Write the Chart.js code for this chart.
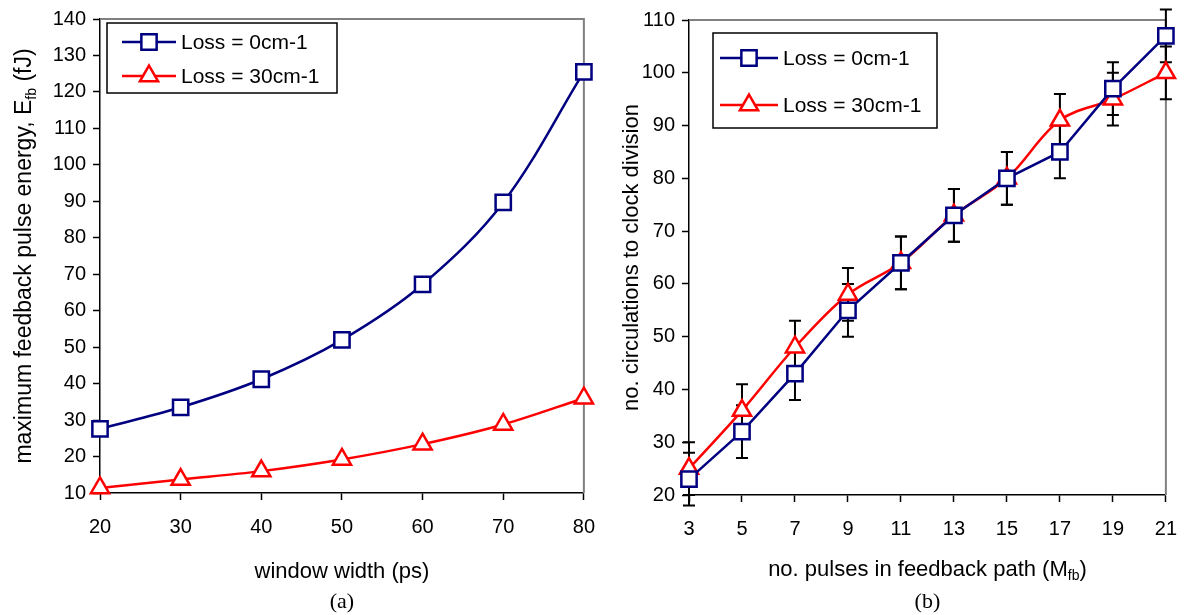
<!DOCTYPE html>
<html>
<head>
<meta charset="utf-8">
<script src="https://cdn.jsdelivr.net/npm/chart.js@4.4.1/dist/chart.umd.min.js"></script>
<style>
  html, body { margin: 0; padding: 0; background: #fff; }
  #wrap { position: relative; width: 1192px; height: 615px; overflow: hidden; }
  canvas { position: absolute; top: 0; }
  #energyChart { left: 0; }
  #circChart { left: 600px; }
</style>
</head>
<body>
<div id="wrap">
  <canvas id="energyChart" width="610" height="615"></canvas>
  <canvas id="circChart" width="592" height="615"></canvas>
</div>
<script>
// series data
const seriesNames = ['Loss = 0cm-1', 'Loss = 30cm-1'];

const windowWidths = [20, 30, 40, 50, 60, 70, 80];
const energyLoss0 = [27.6, 33.5, 41.2, 52, 67.2, 89.7, 125.5];
const energyLoss30 = [11.4, 13.7, 16, 19.2, 23.4, 28.8, 36];

const pulseCounts = [3, 5, 7, 9, 11, 13, 15, 17, 19, 21];
const circLoss0 = [23, 32, 43, 55, 64, 73, 80, 85, 97, 107];
const circLoss30 = [25, 36, 48, 58, 64, 73, 80, 91, 95, 100];
const circErr0 = [5, 5, 5, 5, 5, 5, 5, 5, 5, 5];
const circErr30 = [5, 5, 5, 5, 5, 5, 5, 5, 5, 5];

// axis tick values
const widthTicks = [20, 30, 40, 50, 60, 70, 80];
const energyTicks = [10, 20, 30, 40, 50, 60, 70, 80, 90, 100, 110, 120, 130, 140];
const pulseTicks = [3, 5, 7, 9, 11, 13, 15, 17, 19, 21];
const circTicks = [20, 30, 40, 50, 60, 70, 80, 90, 100, 110];

const FONT = '"Liberation Sans", Arial, sans-serif';
const SERIF = '"Liberation Serif", "Times New Roman", serif';
const NAVY = '#000080';
const RED = '#ff0000';

Chart.defaults.font.family = FONT;
Chart.defaults.font.size = 20;
Chart.defaults.color = '#000';

function drawRichText(ctx, parts, cx, cy, size) {
  const big = size + 'px ' + FONT;
  const small = Math.round(size * 0.62) + 'px ' + FONT;
  const widths = parts.map(p => {
    ctx.font = p.sub ? small : big;
    return ctx.measureText(p.text).width;
  });
  const total = widths.reduce((a, b) => a + b, 0);
  let x = cx - total / 2;
  ctx.textAlign = 'left';
  ctx.textBaseline = 'middle';
  parts.forEach((p, i) => {
    ctx.font = p.sub ? small : big;
    ctx.fillText(p.text, x, cy + (p.sub ? size * 0.3 : 0));
    x += widths[i];
  });
}

// frame, error bars, legend, axis titles and caption
const panelDecor = {
  id: 'panelDecor',
  beforeDatasetsDraw(chart) {
    const { ctx, chartArea: a } = chart;
    ctx.save();
    ctx.strokeStyle = '#808080';
    ctx.lineWidth = 2;
    ctx.beginPath();
    ctx.moveTo(a.left, a.top);
    ctx.lineTo(a.right, a.top);
    ctx.lineTo(a.right, a.bottom);
    ctx.stroke();

    const xs = chart.scales.x, ys = chart.scales.y;
    ctx.strokeStyle = '#000';
    ctx.lineWidth = 2;
    chart.data.datasets.forEach(ds => {
      if (!ds.errorBars) return;
      ds.data.forEach((pt, i) => {
        const e = ds.errorBars[i];
        const x = xs.getPixelForValue(pt.x);
        const y1 = ys.getPixelForValue(pt.y + e);
        const y2 = ys.getPixelForValue(pt.y - e);
        ctx.beginPath();
        ctx.moveTo(x, y1); ctx.lineTo(x, y2);
        ctx.moveTo(x - 6, y1); ctx.lineTo(x + 6, y1);
        ctx.moveTo(x - 6, y2); ctx.lineTo(x + 6, y2);
        ctx.stroke();
      });
    });
    ctx.restore();
  },
  afterDraw(chart, args, opts) {
    const { ctx, chartArea: a } = chart;
    ctx.save();

    // legend
    const lg = opts.legend;
    ctx.fillStyle = '#fff';
    ctx.fillRect(lg.x, lg.y, lg.w, lg.h);
    ctx.strokeStyle = '#000';
    ctx.lineWidth = 1.5;
    ctx.strokeRect(lg.x, lg.y, lg.w, lg.h);
    chart.data.datasets.forEach((ds, i) => {
      const y = lg.rows[i];
      ctx.strokeStyle = ds.borderColor;
      ctx.lineWidth = ds.borderWidth;
      ctx.beginPath();
      ctx.moveTo(lg.lineX[0], y);
      ctx.lineTo(lg.lineX[1], y);
      ctx.stroke();
      ctx.fillStyle = '#fff';
      ctx.lineWidth = ds.pointBorderWidth;
      Chart.helpers.drawPoint(ctx, {
        pointStyle: ds.pointStyle, radius: ds.pointRadius, rotation: 0, borderWidth: ds.pointBorderWidth
      }, (lg.lineX[0] + lg.lineX[1]) / 2, y);
      ctx.fillStyle = '#000';
      ctx.font = '21px ' + FONT;
      ctx.textAlign = 'left';
      ctx.textBaseline = 'middle';
      ctx.fillText(ds.label, lg.textX, y + 1);
    });

    // axis titles
    ctx.fillStyle = '#000';
    const cx = (a.left + a.right) / 2;
    const cy = (a.top + a.bottom) / 2;
    drawRichText(ctx, opts.xTitle, cx, opts.xTitleY, 22);
    ctx.save();
    ctx.translate(opts.yTitleX, cy);
    ctx.rotate(-Math.PI / 2);
    drawRichText(ctx, opts.yTitle, 0, 0, opts.yTitleSize);
    ctx.restore();

    // panel caption
    ctx.font = '22px ' + SERIF;
    ctx.textAlign = 'center';
    ctx.textBaseline = 'middle';
    ctx.fillText(opts.caption, cx, opts.captionY);
    ctx.restore();
  }
};

function axisFor(tickValues, fitSize, isX, pad) {
  return {
    type: 'linear',
    min: tickValues[0],
    max: tickValues[tickValues.length - 1],
    ticks: {
      stepSize: tickValues[1] - tickValues[0],
      color: '#000',
      font: { size: 20, family: FONT },
      padding: pad,
      autoSkip: false,
      maxRotation: 0
    },
    grid: { drawOnChartArea: false, drawTicks: true, tickLength: 7, tickColor: '#000', tickWidth: 1.5 },
    border: { display: true, color: '#000', width: 1.5 },
    afterFit(scale) {
      if (isX) scale.height = fitSize; else scale.width = fitSize;
    }
  };
}

function seriesStyle(color, style, radius, tension) {
  return {
    borderColor: color,
    backgroundColor: '#fff',
    borderWidth: 2.5,
    pointStyle: style,
    pointRadius: radius,
    pointHoverRadius: radius,
    pointBorderWidth: 2.5,
    pointBackgroundColor: '#fff',
    pointBorderColor: color,
    tension: tension,
    clip: false,
    fill: false
  };
}

const toPoints = (xs, ys) => xs.map((x, i) => ({ x: x, y: ys[i] }));

// (a) feedback pulse energy vs window width
new Chart(document.getElementById('energyChart'), {
  type: 'line',
  data: {
    datasets: [
      Object.assign({ label: seriesNames[0], data: toPoints(windowWidths, energyLoss0) },
        seriesStyle(NAVY, 'rect', 10.8, 0.35)),
      Object.assign({ label: seriesNames[1], data: toPoints(windowWidths, energyLoss30) },
        seriesStyle(RED, 'triangle', 10.5, 0.35))
    ]
  },
  options: {
    responsive: false,
    animation: false,
    layout: { padding: { left: 0, right: 16, top: 17, bottom: 62 } },
    scales: {
      x: axisFor(widthTicks, 60, true, 15),
      y: axisFor(energyTicks, 100, false, 7)
    },
    plugins: {
      legend: { display: false },
      tooltip: { enabled: false },
      panelDecor: {
        legend: { x: 107, y: 23, w: 230, h: 70, rows: [42, 76], lineX: [122, 176], textX: 181 },
        xTitle: [{ text: 'window width (ps)' }],
        xTitleY: 572,
        yTitle: [{ text: 'maximum feedback pulse energy, E' }, { text: 'fb', sub: true }, { text: ' (fJ)' }],
        yTitleSize: 23,
        yTitleX: 25,
        caption: '(a)',
        captionY: 602
      }
    }
  },
  plugins: [panelDecor]
});

// (b) circulations to clock division vs pulses in feedback path
new Chart(document.getElementById('circChart'), {
  type: 'line',
  data: {
    datasets: [
      Object.assign({ label: seriesNames[0], data: toPoints(pulseCounts, circLoss0), errorBars: circErr0 },
        seriesStyle(NAVY, 'rect', 10.8, 0)),
      Object.assign({ label: seriesNames[1], data: toPoints(pulseCounts, circLoss30), errorBars: circErr30 },
        seriesStyle(RED, 'triangle', 10.5, 0.35))
    ]
  },
  options: {
    responsive: false,
    animation: false,
    layout: { padding: { left: 0, right: 20, top: 20, bottom: 60 } },
    scales: {
      x: axisFor(pulseTicks, 60, true, 15),
      y: axisFor(circTicks, 89, false, 7)
    },
    plugins: {
      legend: { display: false },
      tooltip: { enabled: false },
      panelDecor: {
        legend: { x: 113, y: 33, w: 224, h: 95, rows: [58, 105], lineX: [120, 178], textX: 183 },
        xTitle: [{ text: 'no. pulses in feedback path (M' }, { text: 'fb', sub: true }, { text: ')' }],
        xTitleY: 570,
        yTitle: [{ text: 'no. circulations to clock division' }],
        yTitleSize: 22,
        yTitleX: 32,
        caption: '(b)',
        captionY: 602
      }
    }
  },
  plugins: [panelDecor]
});
</script>
</body>
</html>
